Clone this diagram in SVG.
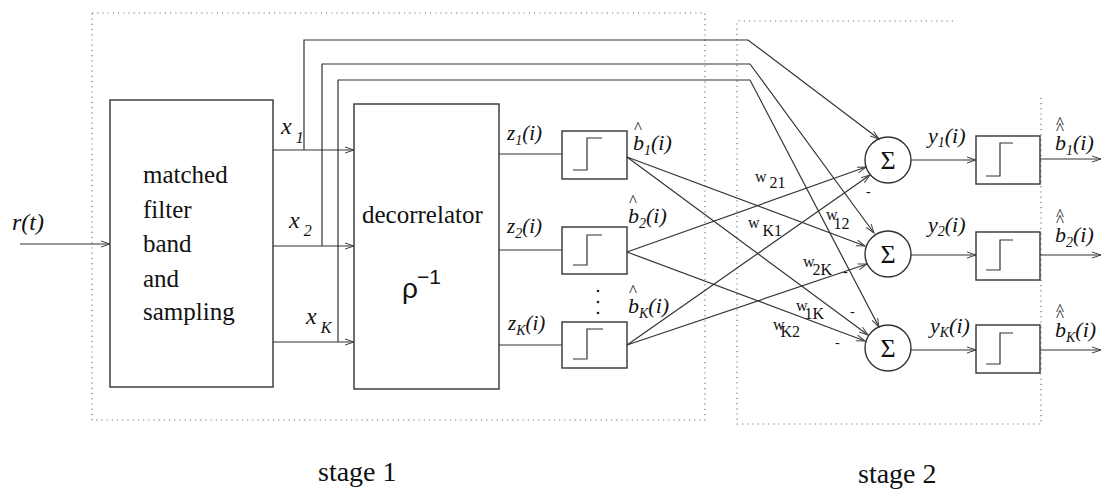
<svg xmlns="http://www.w3.org/2000/svg" width="1102" height="494" viewBox="0 0 1102 494">
<defs>
<marker id="arr" markerWidth="10" markerHeight="8" refX="9" refY="4" orient="auto" markerUnits="userSpaceOnUse">
<path d="M0,1 L9,4 L0,7" fill="none" stroke="#444" stroke-width="1"/>
</marker>
<style>
.ln{fill:none;stroke:#333;stroke-width:1.2}
.bx{fill:none;stroke:#333;stroke-width:1.4}
.dot{fill:none;stroke:#777;stroke-width:1.2;stroke-dasharray:1.2 4}
.rm{font-family:"Liberation Serif",serif;fill:#111}
.it{font-family:"Liberation Serif",serif;font-style:italic;fill:#111}
.sn{font-family:"Liberation Sans",sans-serif;fill:#111}
.hat{font-family:"Liberation Serif",serif;font-style:normal;font-size:17px}
</style>
</defs>
<rect width="1102" height="494" fill="#fff"/>

<g id="stage1-frame"><rect class="dot" x="92" y="13" width="613" height="407"/></g>
<g id="stage2-frame"><path class="dot" d="M953,21 H737 V424 H1041 V96"/></g>

<g id="connectors">
<path class="ln" d="M20,244 H110" marker-end="url(#arr)"/>
<path class="ln" d="M273,150 H354" marker-end="url(#arr)"/>
<path class="ln" d="M273,246 H354" marker-end="url(#arr)"/>
<path class="ln" d="M273,342 H354" marker-end="url(#arr)"/>
<path class="ln" d="M304,150 V40 H748 L879,139" marker-end="url(#arr)"/>
<path class="ln" d="M322,246 V64 H750 L874,233" marker-end="url(#arr)"/>
<path class="ln" d="M338,342 V80 H750 L879,327" marker-end="url(#arr)"/>
<path class="ln" d="M499,154 H562"/>
<path class="ln" d="M499,250 H562"/>
<path class="ln" d="M499,345 H562"/>
<path class="ln" d="M627,157 L865,246" marker-end="url(#arr)"/>
<path class="ln" d="M627,157 L868,335" marker-end="url(#arr)"/>
<path class="ln" d="M627,252 L866,167" marker-end="url(#arr)"/>
<path class="ln" d="M627,252 L865,341" marker-end="url(#arr)"/>
<path class="ln" d="M627,345 L870,175" marker-end="url(#arr)"/>
<path class="ln" d="M627,345 L867,264" marker-end="url(#arr)"/>
<path class="ln" d="M911,160 H976" marker-end="url(#arr)"/>
<path class="ln" d="M911,255 H976" marker-end="url(#arr)"/>
<path class="ln" d="M911,350 H976" marker-end="url(#arr)"/>
<path class="ln" d="M1040,159 H1101" marker-end="url(#arr)"/>
<path class="ln" d="M1040,255 H1101" marker-end="url(#arr)"/>
<path class="ln" d="M1040,350 H1101" marker-end="url(#arr)"/>
</g>

<g id="input-label"><text class="it" x="12" y="230" font-size="24">r(t)</text></g>

<g id="matched-filter">
<rect class="bx" x="110" y="100" width="163" height="287"/>
<text class="rm" x="143" y="183" font-size="25">matched</text>
<text class="rm" x="143" y="218" font-size="25">filter</text>
<text class="rm" x="143" y="252" font-size="25">band</text>
<text class="rm" x="143" y="287" font-size="25">and</text>
<text class="rm" x="143" y="320" font-size="25">sampling</text>
</g>

<g id="x-labels">
<text class="it" x="281" y="134" font-size="24">x<tspan font-size="16" dx="4" dy="9">1</tspan></text>
<text class="it" x="289" y="228" font-size="24">x<tspan font-size="16" dx="4" dy="8">2</tspan></text>
<text class="it" x="306" y="324" font-size="24">x<tspan font-size="16" dx="4" dy="9">K</tspan></text>
</g>

<g id="decorrelator">
<rect class="bx" x="354" y="104" width="145" height="285"/>
<text class="rm" x="362" y="223" font-size="25">decorrelator</text>
<text class="sn" x="402" y="298" font-size="28">ρ<tspan font-size="21" x="417" y="284">−1</tspan></text>
</g>

<g id="z-labels">
<text class="it" x="507" y="140" font-size="21">z<tspan font-size="14" dy="5">1</tspan><tspan dy="-5">(i)</tspan></text>
<text class="it" x="507" y="233" font-size="21">z<tspan font-size="14" dy="5">2</tspan><tspan dy="-5">(i)</tspan></text>
<text class="it" x="508" y="330" font-size="21">z<tspan font-size="14" dy="5">K</tspan><tspan dy="-5">(i)</tspan></text>
</g>

<g id="decision1">
<rect class="bx" x="562" y="131" width="65" height="48"/>
<path class="ln" d="M573,170 H587 V138 H602"/>
</g>
<g id="decision2">
<rect class="bx" x="562" y="227" width="65" height="47"/>
<path class="ln" d="M573,265 H587 V235 H602"/>
</g>
<g id="decisionK">
<rect class="bx" x="562" y="322" width="65" height="46"/>
<path class="ln" d="M573,359 H587 V329 H603"/>
</g>
<g id="dots">
<circle cx="598" cy="291" r="1.3" fill="#222"/>
<circle cx="598" cy="302" r="1.3" fill="#222"/>
<circle cx="598" cy="313" r="1.3" fill="#222"/>
</g>

<g id="bhat-labels">
<text class="it" font-size="22"><tspan class="hat" x="634" y="133">^</tspan><tspan x="633" y="150">b</tspan><tspan font-size="14" dy="5">1</tspan><tspan dy="-5">(i)</tspan></text>
<text class="it" font-size="22"><tspan class="hat" x="629" y="206">^</tspan><tspan x="628" y="223">b</tspan><tspan font-size="14" dy="5">2</tspan><tspan dy="-5">(i)</tspan></text>
<text class="it" font-size="22"><tspan class="hat" x="629" y="296">^</tspan><tspan x="628" y="313">b</tspan><tspan font-size="14" dy="5">K</tspan><tspan dy="-5">(i)</tspan></text>
</g>

<g id="weights">
<text class="rm" x="755" y="182" font-size="16">w<tspan dx="3" dy="6">21</tspan></text>
<text class="rm" x="748" y="228" font-size="16">w<tspan dx="3" dy="8">K1</tspan></text>
<text class="rm" x="826" y="220" font-size="16">w<tspan dx="-4" dy="9">12</tspan></text>
<text class="rm" x="803" y="267" font-size="16">w<tspan dx="-2" dy="8">2K</tspan></text>
<text class="rm" x="796" y="311" font-size="16">w<tspan dx="-3" dy="8">1K</tspan></text>
<text class="rm" x="773" y="330" font-size="16">w<tspan dx="-4" dy="7">K2</tspan></text>
<text class="rm" x="866" y="196" font-size="14">-</text>
<text class="rm" x="843" y="276" font-size="14">-</text>
<text class="rm" x="850" y="316" font-size="14">-</text>
<text class="rm" x="835" y="347" font-size="14">-</text>
</g>

<g id="sum1"><circle class="bx" cx="888" cy="160" r="23"/><text class="rm" x="888" y="169" font-size="26" text-anchor="middle">Σ</text></g>
<g id="sum2"><circle class="bx" cx="888" cy="254" r="23"/><text class="rm" x="888" y="263" font-size="26" text-anchor="middle">Σ</text></g>
<g id="sumK"><circle class="bx" cx="888" cy="348" r="23"/><text class="rm" x="888" y="357" font-size="26" text-anchor="middle">Σ</text></g>

<g id="y-labels">
<text class="it" x="928" y="143" font-size="22">y<tspan font-size="14" dy="4">1</tspan><tspan dy="-4">(i)</tspan></text>
<text class="it" x="928" y="232" font-size="22">y<tspan font-size="14" dy="4">2</tspan><tspan dy="-4">(i)</tspan></text>
<text class="it" x="930" y="333" font-size="22">y<tspan font-size="14" dy="4">K</tspan><tspan dy="-4">(i)</tspan></text>
</g>

<g id="out-decision1">
<rect class="bx" x="976" y="136" width="64" height="48"/>
<path class="ln" d="M986,176 H1000 V143 H1013"/>
</g>
<g id="out-decision2">
<rect class="bx" x="976" y="232" width="64" height="48"/>
<path class="ln" d="M986,270 H1000 V240 H1013"/>
</g>
<g id="out-decisionK">
<rect class="bx" x="976" y="325" width="64" height="48"/>
<path class="ln" d="M986,364 H1000 V333 H1013"/>
</g>

<g id="output-labels">
<text class="it" font-size="22"><tspan class="hat" x="1056" y="128">^</tspan><tspan class="hat" x="1056" y="134">^</tspan><tspan x="1055" y="150">b</tspan><tspan font-size="14" dy="5">1</tspan><tspan dy="-5">(i)</tspan></text>
<text class="it" font-size="22"><tspan class="hat" x="1056" y="220">^</tspan><tspan class="hat" x="1056" y="226">^</tspan><tspan x="1055" y="242">b</tspan><tspan font-size="14" dy="5">2</tspan><tspan dy="-5">(i)</tspan></text>
<text class="it" font-size="22"><tspan class="hat" x="1056" y="315">^</tspan><tspan class="hat" x="1056" y="321">^</tspan><tspan x="1055" y="337">b</tspan><tspan font-size="14" dy="5">K</tspan><tspan dy="-5">(i)</tspan></text>
</g>

<g id="stage-labels">
<text class="rm" x="318" y="481" font-size="28">stage 1</text>
<text class="rm" x="858" y="483" font-size="28">stage 2</text>
</g>
</svg>
